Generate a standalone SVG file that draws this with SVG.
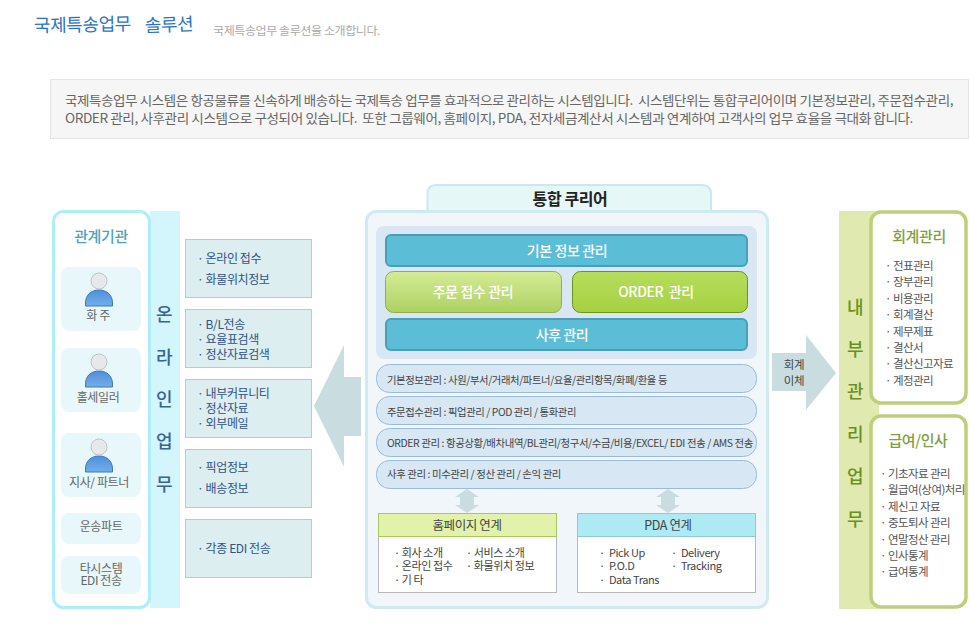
<svg xmlns="http://www.w3.org/2000/svg" width="969" height="635" viewBox="0 0 969 635">
<style>
text{font-family:"Noto Sans CJK KR","Noto Sans",sans-serif;letter-spacing:-.4px}
.m{text-anchor:middle}
.box{fill:#ddeef0;stroke:#b0ced6}
.card{fill:#e8f7f9}
.side{font-size:12px;fill:#2f5288}
.card-t{font-size:12px;fill:#666}
.v1{font-size:18px;fill:#3a6496;font-weight:500;text-anchor:middle}
.v2{font-size:18px;fill:#6a9020;font-weight:500;text-anchor:middle}
.bar{fill:#5bbdd6;stroke:#4a9fb8;stroke-width:2}
.bar-t{font-size:14px;fill:#fff;font-weight:500;text-anchor:middle}
.pill{fill:#d7e7f4;stroke:#9bbcd8}
.pill-t{font-size:10.5px;fill:#444}
.link{fill:#fff;stroke:#b8b8b8}
.link-h{font-size:12.5px;fill:#444;text-anchor:middle}
.link-t{font-size:11px;fill:#444}
.list{font-size:11.5px;fill:#555;letter-spacing:-.55px}
.ra{fill:#c9dde0}
.gp{fill:#fff;stroke:#bdcf7c;stroke-width:3.5}
.gt{font-size:15px;fill:#7f9f3c;font-weight:500;text-anchor:middle}
.head{fill:#e6e8ea;stroke:#bcc4c8}
.body{fill:url(#gb);stroke:#3f78b8}
</style>
<defs>
<linearGradient id="g1" x1="0" y1="0" x2="0" y2="1"><stop offset="0" stop-color="#d4ec94"/><stop offset="1" stop-color="#aed064"/></linearGradient>
<linearGradient id="g2" x1="0" y1="0" x2="0" y2="1"><stop offset="0" stop-color="#b6dd5c"/><stop offset="1" stop-color="#a6d142"/></linearGradient>
<linearGradient id="gb" x1="0" y1="0" x2="0" y2="1"><stop offset="0" stop-color="#4f8fdc"/><stop offset="1" stop-color="#74aee8"/></linearGradient>
<g id="person">
<path class="body" d="M-13.500 25V22C-13.500 14-8 9 0 9S13.500 14 13.500 22V25Z"/>
<circle class="head" cx="0" cy="0" r="8"/>
</g>
<path id="dbl" class="ra" d="M0 0L12 8H7V16H12L0 24L-12 16H-7V8H-12Z"/>
</defs>
<rect width="969" height="635" fill="#fff"/>

<g id="header">
<text x="34" y="32" font-size="18" fill="#2a73c4" letter-spacing="0" transform="rotate(-1 34 32)">국제특송업무</text>
<text x="145" y="32" font-size="18" fill="#2a73c4" letter-spacing="0" transform="rotate(-2 145 32)">솔루션</text>
<text x="213" y="35" font-size="11.500" fill="#aaa" textLength="167" lengthAdjust="spacingAndGlyphs">국제특송업무 솔루션을 소개합니다.</text>
</g>
<g id="intro">
<rect x="50.500" y="79.500" width="918" height="59" fill="#f6f6f6" stroke="#e4e4e4"/>
<text x="65" y="105" font-size="13" fill="#666" textLength="888" lengthAdjust="spacingAndGlyphs" xml:space="preserve">국제특송업무 시스템은 항공물류를 신속하게 배송하는 국제특송 업무를 효과적으로 관리하는 시스템입니다.  시스템단위는 통합쿠리어이며 기본정보관리, 주문접수관리,</text>
<text x="65" y="123" font-size="13" fill="#666" textLength="848" lengthAdjust="spacingAndGlyphs" xml:space="preserve">ORDER 관리, 사후관리 시스템으로 구성되어 있습니다.  또한 그룹웨어, 홈페이지, PDA, 전자세금계산서 시스템과 연계하여 고객사의 업무 효율을 극대화 합니다.</text>
</g>

<g id="online-band">
<rect x="150" y="211" width="30" height="397" fill="#d2f6fc"/>
<text class="v1" x="164" y="321">온</text>
<text class="v1" x="164" y="364">라</text>
<text class="v1" x="164" y="406">인</text>
<text class="v1" x="164" y="448">업</text>
<text class="v1" x="164" y="491">무</text>
</g>
<g id="agencies">
<rect x="53.500" y="211.500" width="96" height="396" rx="10" fill="#fff" stroke="#aeeef8" stroke-width="3"/>
<text class="m" x="101" y="242" font-size="15" font-weight="500" fill="#4aa3b8">관계기관</text>
<g id="shipper"><rect class="card" x="61" y="267" width="80" height="64" rx="8"/><use href="#person" x="99" y="281"/><text class="card-t m" x="98" y="320">화 주</text></g>
<g id="wholesaler"><rect class="card" x="61" y="348" width="80" height="64" rx="8"/><use href="#person" x="99" y="362"/><text class="card-t m" x="98" y="402">홀세일러</text></g>
<g id="branch"><rect class="card" x="61" y="433" width="80" height="64" rx="8"/><use href="#person" x="99" y="447"/><text class="card-t m" x="99" y="487">지사/ 파트너</text></g>
<g id="transport"><rect class="card" x="61" y="513" width="80" height="31" rx="8"/><text class="card-t m" x="101" y="531">운송파트</text></g>
<g id="edi"><rect class="card" x="61" y="556" width="80" height="38" rx="8"/><text class="card-t m" x="101" y="573">타시스템</text><text class="card-t m" x="101" y="585">EDI 전송</text></g>
</g>

<g id="online-1"><rect class="box" x="185.500" y="239.500" width="126" height="58"/><text class="side" x="197" y="263">· 온라인 접수</text><text class="side" x="197" y="284">· 화물위치정보</text></g>
<g id="online-2"><rect class="box" x="185.500" y="309.500" width="126" height="58"/><text class="side" x="197" y="329">· B/L전송</text><text class="side" x="197" y="344">· 요율표검색</text><text class="side" x="197" y="359">· 정산자료검색</text></g>
<g id="online-3"><rect class="box" x="185.500" y="379.500" width="126" height="58"/><text class="side" x="197" y="398">· 내부커뮤니티</text><text class="side" x="197" y="413">· 정산자료</text><text class="side" x="197" y="428">· 외부메일</text></g>
<g id="online-4"><rect class="box" x="185.500" y="449.500" width="126" height="58"/><text class="side" x="197" y="472">· 픽업정보</text><text class="side" x="197" y="493">· 배송정보</text></g>
<g id="online-5"><rect class="box" x="185.500" y="519.500" width="126" height="58"/><text class="side" x="197" y="553">· 각종 EDI 전송</text></g>

<g id="courier">
<path d="M427.500 214V194Q427.500 185 436 185H702Q711 185 711 194V214Z" fill="#e6f7f8" stroke="#c8e9ef" stroke-width="2"/>
<text class="m" x="570" y="205" font-size="16" font-weight="700" fill="#222">통합 쿠리어</text>
<rect x="366.500" y="211.500" width="401" height="396" rx="10" fill="#f0f6fa" stroke="#cfeaf0" stroke-width="3"/>
<rect x="376" y="226" width="381" height="133" rx="8" fill="#d8e7f3"/>
</g>
<g id="connectors">
<path class="ra" d="M314 406L344 345V377H361V436H344V467Z"/>
<path class="ra" d="M772 353H806V335L836 373L806 410V391H772Z"/>
<use href="#dbl" x="467" y="489"/>
<use href="#dbl" x="668" y="489"/>
</g>
<g id="transfer"><text class="m" x="794" y="369" font-size="11.500" fill="#444">회계</text><text class="m" x="794" y="385" font-size="11.500" fill="#444">이체</text></g>
<g id="basic-info"><rect class="bar" x="386" y="235" width="361" height="31" rx="5"/><text class="bar-t" x="567" y="256">기본 정보 관리</text></g>
<g id="order-intake"><rect x="385.500" y="271.500" width="176" height="41" rx="8" fill="url(#g1)" stroke="#94ae4a"/><text class="bar-t" x="473" y="297">주문 접수 관리</text></g>
<g id="order-mgmt"><rect x="572.500" y="271.500" width="175" height="41" rx="8" fill="url(#g2)" stroke="#6e9412"/><text class="bar-t" x="656" y="297" font-weight="400" xml:space="preserve">ORDER  관리</text></g>
<g id="after"><rect class="bar" x="386" y="319" width="361" height="31" rx="5"/><text class="bar-t" x="562" y="340">사후 관리</text></g>

<g id="pill-1"><rect class="pill" x="376.500" y="364.500" width="380" height="28" rx="13"/><text class="pill-t" x="387" y="384" textLength="280" lengthAdjust="spacingAndGlyphs">기본정보관리 : 사원/부서/거래처/파트너/요율/관리항목/화폐/환율 등</text></g>
<g id="pill-2"><rect class="pill" x="376.500" y="396.500" width="380" height="28" rx="13"/><text class="pill-t" x="387" y="416" textLength="189" lengthAdjust="spacingAndGlyphs">주문접수관리 : 픽업관리 / POD 관리 / 통화관리</text></g>
<g id="pill-3"><rect class="pill" x="376.500" y="428.500" width="380" height="28" rx="13"/><text class="pill-t" x="387" y="447" textLength="366" lengthAdjust="spacingAndGlyphs">ORDER 관리 : 항공상황/배차내역/BL관리/청구서/수금/비용/EXCEL/ EDI 전송 / AMS 전송</text></g>
<g id="pill-4"><rect class="pill" x="376.500" y="460.500" width="380" height="28" rx="13"/><text class="pill-t" x="387" y="478" textLength="174" lengthAdjust="spacingAndGlyphs">사후 관리 : 미수관리 / 정산 관리 / 손익 관리</text></g>

<g id="homepage">
<rect class="link" x="378.500" y="513.500" width="178" height="79"/>
<rect x="378.500" y="513.500" width="178" height="23" fill="#e2f2aa" stroke="#a8c85c"/>
<text class="link-h" x="467" y="530">홈페이지 연계</text>
<text class="link-t" x="394" y="557">· 회사 소개</text><text class="link-t" x="394" y="570">· 온라인 접수</text><text class="link-t" x="394" y="584">· 기 타</text>
<text class="link-t" x="466" y="557">· 서비스 소개</text><text class="link-t" x="466" y="570">· 화물위치 정보</text>
</g>
<g id="pda">
<rect class="link" x="577.500" y="513.500" width="178" height="79"/>
<rect x="577.500" y="513.500" width="178" height="23" fill="#aeeaf4" stroke="#8ccad4"/>
<text class="link-h" x="668" y="530">PDA 연계</text>
<text class="link-t" x="599" y="557" xml:space="preserve">·  Pick Up</text><text class="link-t" x="599" y="570" xml:space="preserve">·  P.O.D</text><text class="link-t" x="599" y="584" xml:space="preserve">·  Data Trans</text>
<text class="link-t" x="671" y="557" xml:space="preserve">·  Delivery</text><text class="link-t" x="671" y="570" xml:space="preserve">·  Tracking</text>
</g>

<g id="internal-band">
<rect x="839" y="211" width="40" height="398" fill="#e0eab0"/>
</g>
<g id="accounting">
<rect class="gp" x="871" y="212" width="95" height="191" rx="10"/>
<text class="gt" x="919" y="242">회계관리</text>
<text class="list" x="885" y="270">· 전표관리</text><text class="list" x="885" y="286">· 장부관리</text><text class="list" x="885" y="303">· 비용관리</text><text class="list" x="885" y="319">· 회계결산</text><text class="list" x="885" y="336">· 제무제표</text><text class="list" x="885" y="352">· 결산서</text><text class="list" x="885" y="368">· 결산신고자료</text><text class="list" x="885" y="385">· 계정관리</text>
</g>
<g id="payroll">
<rect class="gp" x="871" y="416" width="95" height="191" rx="10"/>
<text class="gt" x="918" y="446">급여/인사</text>
<text class="list" x="880" y="478">· 기초자료 관리</text><text class="list" x="880" y="494">· 월급여(상여)처리</text><text class="list" x="880" y="511">· 제신고 자료</text><text class="list" x="880" y="527">· 중도퇴사 관리</text><text class="list" x="880" y="544">· 연말정산 관리</text><text class="list" x="880" y="560">· 인사통계</text><text class="list" x="880" y="576">· 급여통계</text>
</g>
<g id="internal-label">
<text class="v2" x="855" y="314">내</text>
<text class="v2" x="855" y="356">부</text>
<text class="v2" x="855" y="398">관</text>
<text class="v2" x="855" y="441">리</text>
<text class="v2" x="855" y="483">업</text>
<text class="v2" x="855" y="526">무</text>
</g>
</svg>
